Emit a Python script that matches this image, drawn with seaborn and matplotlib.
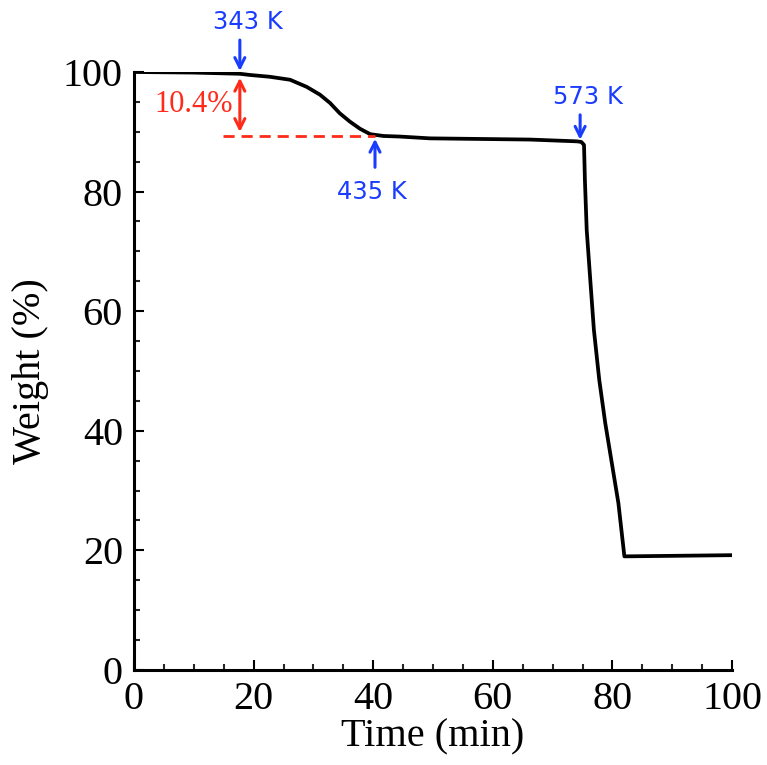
import matplotlib
matplotlib.use("Agg")
import matplotlib.pyplot as plt
import seaborn as sns
import pandas as pd
from matplotlib.ticker import MultipleLocator

# ---- data ----
time_min = [0, 10, 17.7, 19.4, 22.7, 26.1, 28.9, 31.1, 32.8, 34.4, 36.1, 37.8, 39.5,
            41.7, 44.5, 49.5, 66.2, 74.1, 74.8, 75.25, 75.4, 75.7, 76.3, 76.9, 77.8,
            78.8, 79.9, 81.0, 82.0, 100]
weight_pct = [100, 99.9, 99.7, 99.5, 99.2, 98.7, 97.5, 96.2, 94.8, 93.1, 91.7, 90.5, 89.6,
              89.3, 89.2, 88.9, 88.7, 88.4, 88.3, 87.8, 81.9, 73.6, 65.2, 56.9, 48.5,
              41.3, 34.6, 27.9, 19.0, 19.2]

onset_time, onset_weight = 17.7, 99.7      # 343 K
end_time, end_weight = 40.3, 89.3          # 435 K
decomp_time, decomp_weight = 74.6, 88.2    # 573 K
loss_label = "10.4%"
temp_labels = ["343 K", "435 K", "573 K"]

xticks = [0, 20, 40, 60, 80, 100]
yticks = [0, 20, 40, 60, 80, 100]

df = pd.DataFrame({"Time (min)": time_min, "Weight (%)": weight_pct})

sns.set_theme(style="white")
plt.rcParams["font.family"] = ["Liberation Serif", "DejaVu Serif"]

fig = plt.figure(figsize=(7.67, 7.65), dpi=100)
ax = fig.add_axes([0.1747, 0.1242, 0.7797, 0.7817])

sns.lineplot(data=df, x="Time (min)", y="Weight (%)", ax=ax, color="black",
             linewidth=2.7, sort=False, estimator=None)
for l in ax.lines:
    l.set_solid_joinstyle("round")

ax.set_xlim(0, 100)
ax.set_ylim(0, 100)
ax.set_xticks(xticks)
ax.set_yticks(yticks)
ax.xaxis.set_minor_locator(MultipleLocator(5))
ax.yaxis.set_minor_locator(MultipleLocator(5))
ax.tick_params(which="major", direction="in", length=7, width=1.5, labelsize=29,
               colors="black", pad=8)
ax.tick_params(which="minor", direction="in", length=4, width=1.5)
ax.tick_params(axis="x", which="both", bottom=True, top=False)
ax.tick_params(axis="y", which="both", left=True, right=False)
for s in ["top", "right"]:
    ax.spines[s].set_visible(False)
for s in ["left", "bottom"]:
    ax.spines[s].set_linewidth(2.2)
    ax.spines[s].set_color("black")

ax.set_xlabel("Time (min)", fontsize=29, labelpad=0, color="black")
ax.set_ylabel("Weight (%)", fontsize=29, labelpad=10, color="black")

blue = "#1a3cff"
red = "#ff2a1a"
bkw = dict(arrowstyle="->", color=blue, lw=2.2, mutation_scale=18)

# 343 K
ax.annotate("", xy=(onset_time, onset_weight), xytext=(onset_time, 105.8),
            arrowprops=bkw, annotation_clip=False)
ax.text(onset_time + 1.3, 108.3, temp_labels[0], color=blue, fontsize=17.5,
        ha="center", va="center", family="DejaVu Sans")
# 435 K
ax.annotate("", xy=(end_time, end_weight), xytext=(end_time, 83.6),
            arrowprops=bkw)
ax.text(end_time - 0.5, 79.9, temp_labels[1], color=blue, fontsize=17.5,
        ha="center", va="center", family="DejaVu Sans")
# 573 K
ax.annotate("", xy=(decomp_time, decomp_weight), xytext=(decomp_time, 93.3),
            arrowprops=bkw)
ax.text(decomp_time + 1.3, 95.8, temp_labels[2], color=blue, fontsize=17.5,
        ha="center", va="center", family="DejaVu Sans")

# red double arrow + dashed line
ax.annotate("", xy=(onset_time, onset_weight - 0.2), xytext=(onset_time, end_weight + 0.2),
            arrowprops=dict(arrowstyle="<->", color=red, lw=2.2, mutation_scale=18))
ax.plot([14.9, end_time], [end_weight, end_weight], color=red, lw=2.0,
        linestyle=(0, (4, 2.5)))
ax.text(9.9, 94.5, loss_label, color=red, fontsize=22, ha="center", va="center")

fig.savefig("out.png", dpi=100, facecolor="white")
